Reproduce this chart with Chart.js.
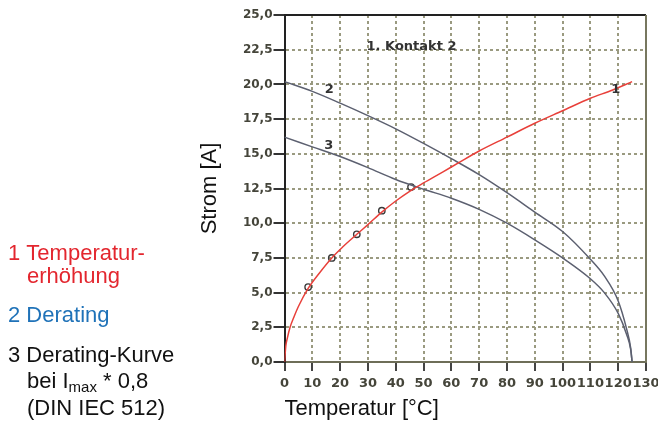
<!DOCTYPE html>
<html>
<head>
<meta charset="utf-8">
<script src="https://cdn.jsdelivr.net/npm/chart.js@4.4.1/dist/chart.umd.min.js"></script>
<style>
  body { margin: 0; background: #fff; }
</style>
</head>
<body>
<canvas id="deratingChart" width="658" height="421"></canvas>
<script>
// Curve 1: Temperaturerhöhung
const riseTemp    = [0, 0.5, 1, 2, 3.5, 5, 8.5, 12.5, 17, 21, 26, 30, 35, 40, 45, 50, 57, 63, 70, 80, 90, 100, 110, 118, 125];
const riseCurrent = [0, 1.2, 1.7, 2.5, 3.3, 4.0, 5.3, 6.4, 7.5, 8.3, 9.2, 9.9, 10.8, 11.6, 12.3, 12.9, 13.7, 14.4, 15.2, 16.2, 17.2, 18.1, 19.0, 19.6, 20.2];

// Curve 2: Derating
const deratingTemp    = [0, 10, 20, 30, 40, 50, 60, 70, 80, 90, 100, 110, 115, 120, 123, 124.5, 125];
const deratingCurrent = [20.2, 19.5, 18.65, 17.75, 16.8, 15.75, 14.65, 13.5, 12.2, 10.8, 9.4, 7.4, 6.2, 4.4, 2.4, 1.0, 0];

// Curve 3: Derating-Kurve bei Imax * 0,8
const reducedTemp    = [0, 10, 20, 30, 40, 50, 60, 70, 80, 90, 100, 110, 115, 120, 123, 124.5, 125];
const reducedCurrent = [16.2, 15.5, 14.8, 14.0, 13.15, 12.45, 11.8, 11.0, 10.0, 8.8, 7.5, 6.0, 5.0, 3.5, 2.0, 0.9, 0];

// measured points on curve 1
const markerTemp    = [8.5, 17, 26, 35, 45.5];
const markerCurrent = [5.4, 7.5, 9.2, 10.9, 12.6];

const xTickLabels = ['0', '10', '20', '30', '40', '50', '60', '70', '80', '90', '100', '110', '120', '130'];
const yTickLabels = ['0,0', '2,5', '5,0', '7,5', '10,0', '12,5', '15,0', '17,5', '20,0', '22,5', '25,0'];

// labels written inside the plot
const curveNotes = [
    { text: '1. Kontakt 2', t: 29.5, i: 22.75 },
    { text: '2', t: 14.5, i: 19.6 },
    { text: '3', t: 14.3, i: 15.6 },
    { text: '1', t: 117.5, i: 19.65 }
];

const toPoints = (xs, ys) => xs.map((v, i) => ({ x: v, y: ys[i] }));

const textFont = '"Liberation Sans", Arial, sans-serif';
const tickFontY = { family: '"DejaVu Sans", sans-serif', size: 12, weight: 'bold' };
const tickFontX = { family: '"DejaVu Sans", sans-serif', size: 13, weight: 'bold' };

const decorPlugin = {
    id: 'decor',
    afterDraw(chart) {
        const { ctx, chartArea: a, scales: { x, y } } = chart;
        ctx.save();

        // top and right frame lines
        ctx.lineWidth = 2;
        ctx.strokeStyle = '#222';
        ctx.beginPath(); ctx.moveTo(a.left, a.top); ctx.lineTo(a.right, a.top); ctx.stroke();
        ctx.strokeStyle = '#77775f';
        ctx.beginPath(); ctx.moveTo(a.right, a.top); ctx.lineTo(a.right, a.bottom); ctx.stroke();

        // curve numbers
        ctx.font = 'bold 13px "DejaVu Sans"';
        ctx.fillStyle = '#333';
        ctx.textBaseline = 'middle';
        curveNotes.forEach(n => ctx.fillText(n.text, x.getPixelForValue(n.t), y.getPixelForValue(n.i)));

        // explanation on the left
        ctx.textBaseline = 'alphabetic';
        ctx.font = '22px ' + textFont;
        ctx.fillStyle = '#e3262e';
        ctx.fillText('1 Temperatur-', 8, 260);
        ctx.fillText('erhöhung', 27, 283);
        ctx.fillStyle = '#1f72b8';
        ctx.fillText('2 Derating', 8, 322);
        ctx.fillStyle = '#111';
        ctx.fillText('3 Derating-Kurve', 8, 362);
        let px = 27;
        ctx.fillText('bei I', px, 388);
        px += ctx.measureText('bei I').width;
        ctx.font = '15px ' + textFont;
        ctx.fillText('max', px, 392);
        px += ctx.measureText('max').width;
        ctx.font = '22px ' + textFont;
        ctx.fillText(' * 0,8', px, 388);
        ctx.fillText('(DIN IEC 512)', 27, 415);

        ctx.restore();
    }
};

const ctx = document.getElementById('deratingChart').getContext('2d');

const deratingChart = new Chart(ctx, {
    type: 'line',
    data: {
        datasets: [
            {
                label: '1 Temperaturerhöhung',
                data: toPoints(riseTemp, riseCurrent),
                borderColor: '#e8403a',
                borderWidth: 1.5,
                pointRadius: 0,
                cubicInterpolationMode: 'monotone'
            },
            {
                label: '2 Derating',
                data: toPoints(deratingTemp, deratingCurrent),
                borderColor: '#5c6070',
                borderWidth: 1.5,
                pointRadius: 0,
                cubicInterpolationMode: 'monotone'
            },
            {
                label: '3 Derating-Kurve',
                data: toPoints(reducedTemp, reducedCurrent),
                borderColor: '#5c6070',
                borderWidth: 1.5,
                pointRadius: 0,
                cubicInterpolationMode: 'monotone'
            },
            {
                label: 'Messpunkte',
                data: toPoints(markerTemp, markerCurrent),
                showLine: false,
                pointRadius: 3.2,
                pointBorderWidth: 1.4,
                pointBorderColor: '#3a3a3a',
                pointBackgroundColor: 'rgba(255,255,255,0)'
            }
        ]
    },
    options: {
        responsive: false,
        animation: false,
        layout: { padding: { left: 197, right: 12, top: 15, bottom: 0 } },
        plugins: {
            legend: { display: false },
            tooltip: { enabled: false }
        },
        scales: {
            x: {
                type: 'linear',
                min: 0,
                max: 130,
                afterFit: s => { s.height = 59; s.paddingLeft = 0; s.paddingRight = 0; },
                ticks: {
                    stepSize: 10,
                    padding: 5,
                    autoSkip: false,
                    maxRotation: 0,
                    color: '#45453a',
                    font: tickFontX,
                    callback: (v, i) => xTickLabels[i]
                },
                grid: { color: '#9a9a80', lineWidth: 2, tickLength: 9, tickColor: '#444', tickWidth: 2, tickBorderDash: [] },
                border: { color: '#6e6e58', width: 2, dash: [3, 3] },
                title: {
                    display: true,
                    text: 'Temperatur [°C]',
                    align: 'start',
                    color: '#111',
                    font: { family: textFont, size: 22, lineHeight: 1 },
                    padding: { top: 0, bottom: 1 }
                }
            },
            y: {
                type: 'linear',
                min: 0,
                max: 25,
                afterFit: s => { s.width = 87.5; s.paddingTop = 0; s.paddingBottom = 0; },
                ticks: {
                    stepSize: 2.5,
                    padding: 1,
                    autoSkip: false,
                    color: '#45453a',
                    font: tickFontY,
                    callback: (v, i) => yTickLabels[i]
                },
                grid: { color: '#9a9a80', lineWidth: 2, tickLength: 11, tickColor: '#333', tickWidth: 2, tickBorderDash: [] },
                border: { color: '#222', width: 2, dash: [3, 3] },
                title: {
                    display: true,
                    text: 'Strom [A]',
                    color: '#111',
                    font: { family: textFont, size: 22, lineHeight: 1 },
                    padding: { top: 2, bottom: 0 }
                }
            }
        }
    },
    plugins: [decorPlugin]
});
</script>
</body>
</html>
